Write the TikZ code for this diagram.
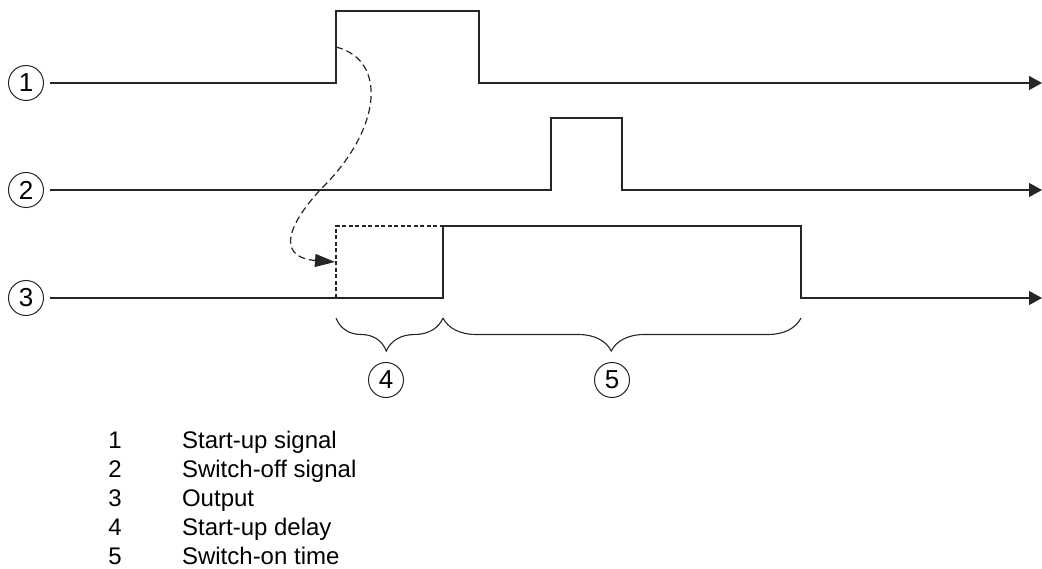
\documentclass[tikz,border=0pt]{standalone}
\usepackage{fontspec}
\setmainfont{Liberation Sans}
\usetikzlibrary{arrows.meta, positioning, decorations.pathreplacing}

\begin{document}
\begin{tikzpicture}[x=1pt,y=-1pt,node distance=29pt]
 \tikzstyle{num}=[circle,draw=black!85,line width=1pt,minimum size=35pt,
   inner sep=0pt,font=\fontsize{26}{26}\selectfont]
 \tikzstyle{sig}=[line width=1.3pt,draw=black!85]
 \tikzstyle{late}=[line width=1.1pt,draw=black!85,dash pattern=on 4pt off 2.5pt]
 \tikzstyle{gap}=[decorate,decoration={brace,mirror,amplitude=33pt,aspect=0.47},
   line width=1.1pt,draw=black!85]
 \tikzstyle{legnum}=[inner sep=0pt,text height=17pt,text depth=5pt,
   font=\fontsize{24}{28}\selectfont]
 \tikzstyle{legtxt}=[legnum,anchor=west]
 \useasboundingbox (0,0) rectangle (1042,569);
 % signal rows
 \node (c1) [num] at (26,83) {1};
 \node (c2) [num] at (26,190) {2};
 \node (c3) [num] at (26,298) {3};
 \coordinate (e1) at (1042,83);
 \coordinate (e2) at (1042,190);
 \coordinate (e3) at (1042,298);
 \draw[sig,-{Triangle[length=13pt,width=14pt]}] ([xshift=6pt]c1.east)
   -- (336,83) -- (336,11) -- (479,11) -- (479,83) -- (e1);
 \draw[sig,-{Triangle[length=13pt,width=14pt]}] ([xshift=6pt]c2.east)
   -- (551,190) -- (551,118) -- (622,118) -- (622,190) -- (e2);
 \draw[sig,-{Triangle[length=13pt,width=14pt]}] ([xshift=6pt]c3.east)
   -- (443,298) -- (443,226) -- (801,226) -- (801,298) -- (e3);
 \draw[late] (336,298) -- (336,226) -- (443,226);
 \draw[line width=1.2pt,draw=black!85,dash pattern=on 7pt off 4pt,
   -{Triangle[length=20pt,width=13pt]}]
   (336,47) .. controls (388,60) and (382,130) .. (320,190)
   .. controls (280,234) and (283,258) .. (335,262);
 % time spans
 \draw[gap] (336,318) -- (443,318);
 \draw[gap] (443,318) -- (801,318);
 \node (c4) [num] at (386,380) {4};
 \node (c5) [num] at (612,380) {5};
 % legend
 \node (n1) [legnum] at (115,442) {1};
 \node (n2) [legnum,below of=n1] {2};
 \node (n3) [legnum,below of=n2] {3};
 \node (n4) [legnum,below of=n3] {4};
 \node (n5) [legnum,below of=n4] {5};
 \node (t1) [legtxt,right=60pt of n1] {Start-up signal};
 \node (t2) [legtxt,right=60pt of n2] {Switch-off signal};
 \node (t3) [legtxt,right=60pt of n3] {Output};
 \node (t4) [legtxt,right=60pt of n4] {Start-up delay};
 \node (t5) [legtxt,right=60pt of n5] {Switch-on time};
\end{tikzpicture}
\end{document}
